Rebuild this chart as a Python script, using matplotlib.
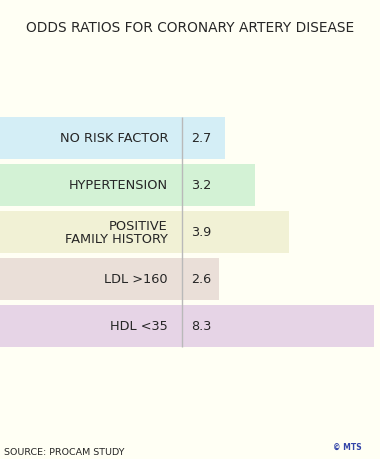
import matplotlib
matplotlib.use("Agg")
import matplotlib.pyplot as plt
import matplotlib.transforms as mtransforms

categories = ["NO RISK FACTOR", "HYPERTENSION", "POSITIVE\nFAMILY HISTORY", "LDL >160", "HDL <35"]
odds_ratios = [2.7, 3.2, 3.9, 2.6, 8.3]
bar_colors = ["#d4eef6", "#d3f2d5", "#f1f1d5", "#eadfd8", "#e6d4e6"]

title = "ODDS RATIOS FOR CORONARY ARTERY DISEASE"
source = "SOURCE: PROCAM STUDY"
credit = "© MTS"

BG = "#fffff4"
TXT = "#262626"

plt.rcParams['font.family'] = ['DejaVu Sans']

W, H = 380, 460
fig = plt.figure(figsize=(W / 100, H / 100), dpi=100, facecolor=BG)

# axes: x from 0 to 374 px, y from 115 to 350.5 px (top-based)
ax = fig.add_axes([0, (H - 350.5) / H, 374 / W, 235.5 / H])
ax.set_facecolor(BG)
ax.set_xscale("log")
ax.set_xlim(0.740, 6.356)
ax.set_ylim(len(categories) - 0.5, -0.5)
ax.axis("off")

bh = 42 / 47
ypos = list(range(len(categories)))
ax.barh(ypos, [v - 0.5 for v in odds_ratios], left=0.5, height=bh,
        color=bar_colors, edgecolor="none", zorder=1)

trans = mtransforms.blended_transform_factory(ax.transAxes, ax.transData)
div_x = 181.7 / 374
ax.plot([div_x, div_x], [-bh / 2, len(categories) - 1 + bh / 2], color="#b9b9b9",
        lw=1, transform=trans, zorder=3, solid_capstyle="butt")

for y, lab, v in zip(ypos, categories, odds_ratios):
    ax.text(168 / 374, y, lab, transform=trans, ha="right", va="center",
            fontsize=9.3, color=TXT, linespacing=1.05, zorder=4)
    ax.text(191 / 374, y, f"{v:.1f}", transform=trans, ha="left", va="center",
            fontsize=9.2, color=TXT, zorder=4)

fig.text(0.5, 1 - 27.5 / H, title, ha="center", va="center", fontsize=9.9, color=TXT)
fig.text(4 / W, 1 - 453 / H, source, ha="left", va="center", fontsize=6.8, color=TXT)
fig.text(362 / W, 1 - 447.5 / H, credit, ha="right", va="center", fontsize=5.5,
         color="#3344a8", fontweight="bold")

fig.savefig("out.png", dpi=100, facecolor=BG)
